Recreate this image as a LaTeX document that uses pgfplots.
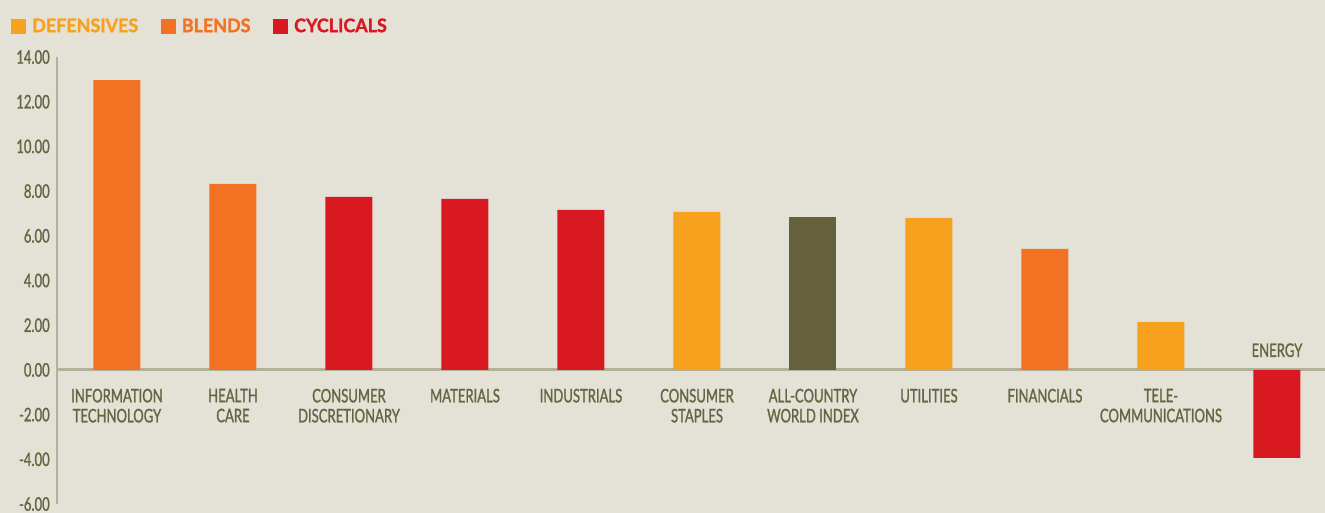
\documentclass[border=0pt]{standalone}
\usepackage{pgfplots}
\pgfplotsset{compat=1.18}
\usepackage{fontspec}
\setmainfont{Lato}[FakeStretch=0.70, FakeBold=1.2]
\newfontfamily\legfont{Lato}[FakeStretch=0.96, FakeBold=1.5]
\definecolor{bgc}{HTML}{E4E2D7}
\definecolor{defc}{HTML}{F7A11E}
\definecolor{blec}{HTML}{F37122}
\definecolor{cycc}{HTML}{D91921}
\definecolor{acwc}{HTML}{65613E}
\definecolor{txtc}{HTML}{666542}
\definecolor{axc}{HTML}{B3B19A}
\pgfplotsset{sqlegend/.style={legend image code/.code={\fill[##1] (0pt,-5.6pt) rectangle (11.25pt,5.6pt);}}}
\pgfplotstableread{
x y
5 7.07
7 6.80
9 2.15
}\defdata
\pgfplotstableread{
x y
0 12.97
1 8.32
8 5.41
}\bledata
\pgfplotstableread{
x y
2 7.74
3 7.65
4 7.16
10 -3.94
}\cycdata
\pgfplotstableread{
x y
6 6.84
}\acwdata
\begin{document}
\begin{tikzpicture}
\fill[bgc] (0pt,0pt) rectangle (993.75pt,-384.75pt);
\begin{axis}[
  at={(42.75pt,-378pt)}, anchor=south west,
  scale only axis, width=951pt, height=335.25pt,
  xmin=-0.517, xmax=10.414, ymin=-6, ymax=14,
  axis x line=none, axis y line*=left,
  y axis line style={color=axc, line width=1.1pt},
  ytick={-6,-4,...,14},
  yticklabels={-6.00,-4.00,-2.00,0.00,2.00,4.00,6.00,8.00,10.00,12.00,14.00},
  major tick length=0pt,
  yticklabel style={font=\fontsize{14}{15}\selectfont, text=txtc, inner sep=0pt, xshift=-5.25pt},
  extra y ticks={0}, extra y tick labels={},
  extra y tick style={grid=major, major grid style={color=axc, line width=2.25pt}},
  ybar, bar width=35.25pt, bar shift=0pt,
  sqlegend,
  legend columns=3,
  legend style={at={(0,1)}, anchor=west, xshift=-34.5pt, yshift=23pt,
    draw=none, fill=none, inner sep=0pt,
    nodes={inner sep=0pt, font=\legfont\bfseries\fontsize{14}{15}\selectfont},
    /tikz/every odd column/.append style={column sep=4.5pt},
    /tikz/every even column/.append style={column sep=17pt}},
  clip=false,
]
\addplot[fill=defc, draw=none] table[x=x,y=y] {\defdata};
\addplot[fill=blec, draw=none] table[x=x,y=y] {\bledata};
\addplot[fill=cycc, draw=none] table[x=x,y=y] {\cycdata};
\addplot[fill=acwc, draw=none, forget plot] table[x=x,y=y] {\acwdata};
\legend{\textcolor{defc}{DEFENSIVES},\textcolor{blec}{BLENDS},\textcolor{cycc}{CYCLICALS}}
\tikzset{cat/.style={anchor=north, align=center, inner sep=0pt, text=txtc, font=\fontsize{14}{15}\selectfont, yshift=-14pt}}
\node[cat] at (axis cs:0,0) {INFORMATION\\TECHNOLOGY};
\node[cat] at (axis cs:1,0) {HEALTH\\CARE};
\node[cat] at (axis cs:2,0) {CONSUMER\\DISCRETIONARY};
\node[cat] at (axis cs:3,0) {MATERIALS};
\node[cat] at (axis cs:4,0) {INDUSTRIALS};
\node[cat] at (axis cs:5,0) {CONSUMER\\STAPLES};
\node[cat] at (axis cs:6,0) {ALL-COUNTRY\\WORLD INDEX};
\node[cat] at (axis cs:7,0) {UTILITIES};
\node[cat] at (axis cs:8,0) {FINANCIALS};
\node[cat] at (axis cs:9,0) {TELE-\\COMMUNICATIONS};
\node[anchor=base, inner sep=0pt, text=txtc, font=\fontsize{14}{15}\selectfont, yshift=9.75pt] at (axis cs:10,0) {ENERGY};
\end{axis}
\pgfresetboundingbox
\useasboundingbox (0pt,0pt) rectangle (993.75pt,-384.75pt);
\end{tikzpicture}
\end{document}
